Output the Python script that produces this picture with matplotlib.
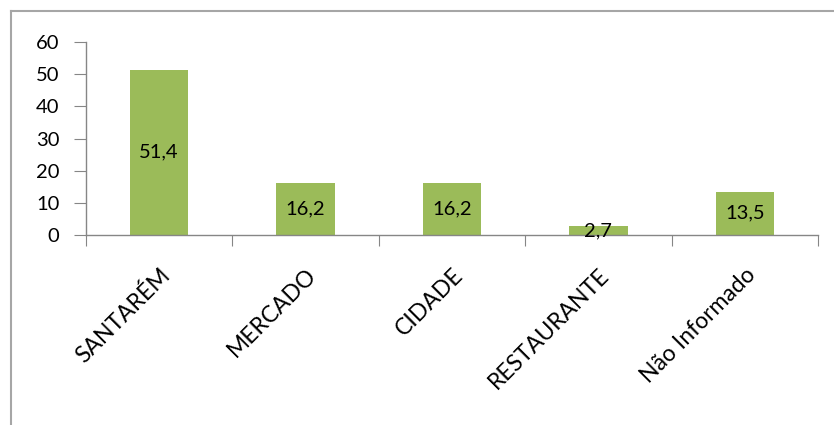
import matplotlib
matplotlib.use("Agg")
import matplotlib.pyplot as plt
from matplotlib.lines import Line2D
import numpy as np

categories = ["SANTARÉM", "MERCADO", "CIDADE", "RESTAURANTE", "Não Informado"]
values = [51.4, 16.2, 16.2, 2.7, 13.5]
value_labels = ["51,4", "16,2", "16,2", "2,7", "13,5"]
y_ticks = [0, 10, 20, 30, 40, 50, 60]

plt.rcParams["font.family"] = ["Lato", "DejaVu Sans"]

W, H = 834, 425
fig = plt.figure(figsize=(W / 100, H / 100), dpi=100)
fig.patch.set_facecolor("white")

# axes placed in pixel coordinates: x 86..818, y 42..235 (from top)
ax = fig.add_axes([86 / W, 1 - 235 / H, (818 - 86) / W, (235 - 42) / H])

x = np.arange(len(categories))
ax.bar(x, values, width=0.4, color="#9BBB59", zorder=2)
for xi, v, lab in zip(x, values, value_labels):
    ax.text(xi, v / 2, lab, ha="center", va="center", fontsize=14.5, color="black", zorder=3)

ax.set_xlim(-0.5, len(categories) - 0.5)
ax.set_ylim(0, 60)
ax.set_yticks(y_ticks)
ax.set_yticklabels([str(t) for t in y_ticks], fontsize=14.5)

ax.set_xticks(np.arange(len(categories) + 1) - 0.5)
ax.set_xticklabels([])
ax.set_xticks(x, minor=True)
ax.set_xticklabels(categories, minor=True, rotation=45, ha="right", va="top",
                   rotation_mode="anchor", fontsize=16.5)
ax.tick_params(axis="x", which="minor", length=0, pad=21)
ax.tick_params(axis="x", which="major", length=8, color="#868686")
ax.tick_params(axis="y", length=9, color="#868686", pad=10)

for s in ["top", "right"]:
    ax.spines[s].set_visible(False)
for s in ["left", "bottom"]:
    ax.spines[s].set_color("#868686")
    ax.spines[s].set_linewidth(1)

# outer chart frame (top and left edges visible)
fig.add_artist(Line2D([11 / W, 1], [1 - 11 / H, 1 - 11 / H], color="#A6A6A6", lw=1.5))
fig.add_artist(Line2D([11 / W, 11 / W], [0, 1 - 11 / H], color="#A6A6A6", lw=1.5))

fig.savefig("out.png", dpi=100)
